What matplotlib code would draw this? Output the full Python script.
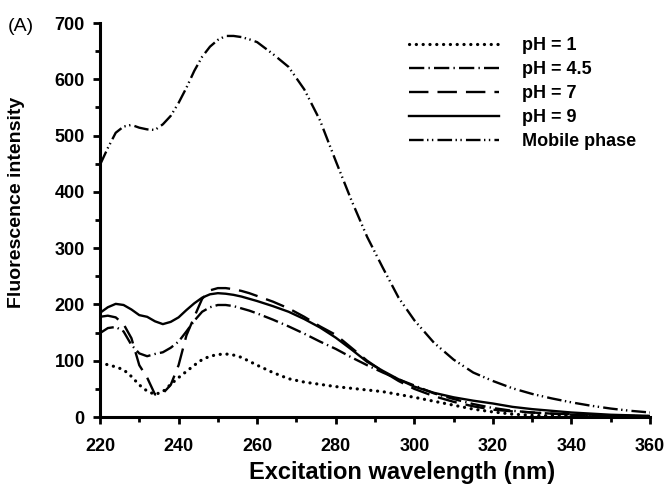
import matplotlib
matplotlib.use("Agg")
import matplotlib.pyplot as plt
from matplotlib.ticker import MultipleLocator

# Excitation spectra
wavelength = [220, 222, 224, 226, 228, 230, 232, 234, 236, 238, 240, 242, 244, 246,
              248, 250, 252, 254, 256, 258, 260, 264, 268, 272, 276, 280, 284, 288,
              292, 296, 300, 305, 310, 315, 320, 325, 330, 335, 340, 345, 350, 355, 360]

ph1 = [95, 93, 89, 84, 72, 57, 46, 40, 45, 58, 70, 81, 92, 102,
       108, 111, 112, 110, 106, 99, 92, 79, 68, 62, 58, 54, 51, 48,
       45, 40, 35, 28, 21, 14, 9, 5, 3, 2, 2, 1, 1, 1, 1]

ph45 = [149, 158, 160, 152, 128, 113, 108, 112, 115, 123, 134, 152, 171, 187,
        195, 199, 199, 197, 193, 189, 184, 173, 161, 148, 134, 121, 106, 92,
        79, 67, 56, 42, 32, 23, 16, 11, 8, 6, 4, 3, 2, 2, 1]

ph7 = [178, 180, 177, 165, 140, 92, 70, 40, 42, 57, 92, 145, 178, 210,
       225, 229, 229, 227, 224, 220, 215, 205, 193, 178, 161, 146, 123, 100,
       81, 64, 50, 37, 27, 19, 13, 10, 8, 6, 5, 4, 3, 2, 1]

ph9 = [185, 195, 201, 199, 191, 181, 178, 170, 165, 169, 177, 190, 202, 212,
       218, 220, 219, 217, 214, 210, 206, 197, 187, 174, 159, 141, 120, 98,
       82, 67, 54, 43, 35, 29, 24, 18, 14, 11, 8, 6, 4, 3, 2]

mobile = [448, 478, 505, 516, 519, 514, 511, 510, 520, 535, 558, 585, 615, 640,
          658, 670, 677, 677, 675, 671, 666, 645, 622, 582, 527, 455, 385, 320,
          265, 212, 172, 132, 102, 79, 64, 51, 41, 33, 26, 20, 15, 11, 8]

labels = ["pH = 1", "pH = 4.5", "pH = 7", "pH = 9", "Mobile phase"]

plt.rcParams["font.family"] = "Liberation Sans"
plt.rcParams["lines.scale_dashes"] = False

fig = plt.figure(figsize=(6.68, 4.84), dpi=100)
ax = fig.add_axes([100 / 668, 67 / 484, 550 / 668, 394 / 484])

lw = 1.7
ax.plot(wavelength, ph1, color="black", lw=2.3, dashes=(0.1, 4.8),
        dash_capstyle="round", label=labels[0])
ax.plot(wavelength, ph45, color="black", lw=lw, dashes=(11, 3, 1, 3),
        label=labels[1])
ax.plot(wavelength, ph7, color="black", lw=lw, dashes=(14, 6.5), label=labels[2])
ax.plot(wavelength, ph9, color="black", lw=lw, label=labels[3])
ax.plot(wavelength, mobile, color="black", lw=lw,
        dashes=(10.5, 2.5, 1, 2.5, 1, 3), label=labels[4])

ax.set_xlim(220, 360)
ax.set_ylim(0, 700)
ax.xaxis.set_major_locator(MultipleLocator(20))
ax.xaxis.set_minor_locator(MultipleLocator(10))
ax.yaxis.set_major_locator(MultipleLocator(100))
ax.yaxis.set_minor_locator(MultipleLocator(50))

for side in ["top", "right"]:
    ax.spines[side].set_visible(False)
for side in ["left", "bottom"]:
    ax.spines[side].set_linewidth(2.2)

ax.tick_params(which="major", direction="out", length=5, width=2, pad=6)
ax.tick_params(which="minor", direction="out", length=3.5, width=2)
ax.tick_params(axis="x", which="major", pad=10)
for lab in ax.get_xticklabels() + ax.get_yticklabels():
    lab.set_fontsize(13)
    lab.set_fontweight("bold")

fig.text(402 / 668, 5 / 484, "Excitation wavelength (nm)", ha="center",
         va="baseline", fontsize=17, fontweight="bold")
fig.text(17 / 668, 1 - 202 / 484, "Fluorescence intensity", ha="center",
         va="center", rotation=90, fontsize=14, fontweight="bold")
fig.text(8 / 668, 1 - 31 / 484, "(A)", ha="left", va="baseline", fontsize=14)

ax.legend(loc="upper left", bbox_to_anchor=(409 / 668, 1 - 37 / 484),
          bbox_transform=fig.transFigure, frameon=False, borderpad=0,
          borderaxespad=0, handlelength=5, handletextpad=1.25,
          labelspacing=0.39, prop={"weight": "bold", "size": 13})

fig.savefig("out.png", dpi=100)
